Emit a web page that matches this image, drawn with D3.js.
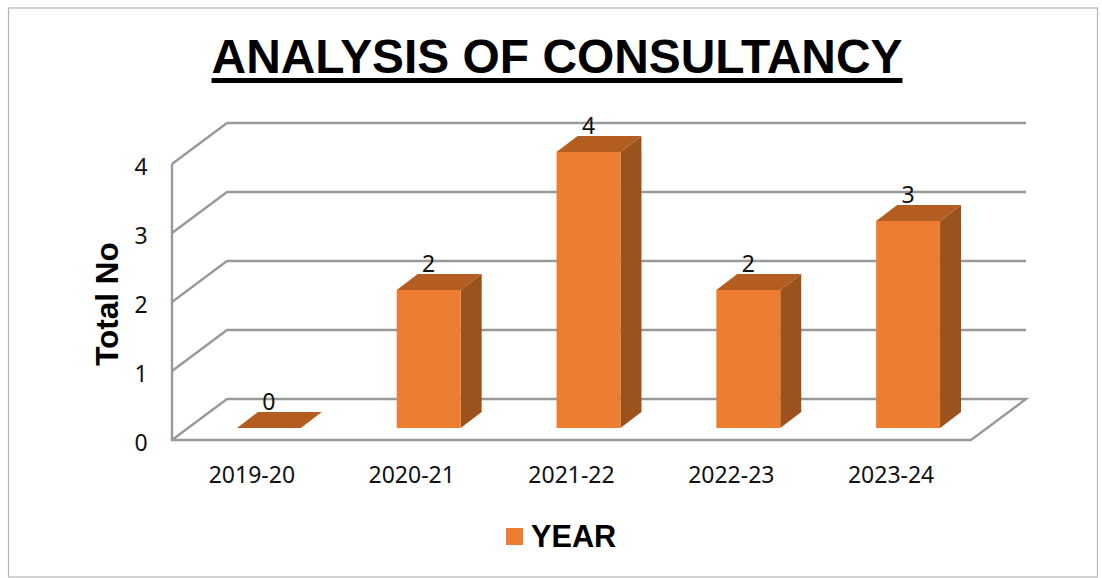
<!DOCTYPE html>
<html lang="en">
<head>
	<meta charset="UTF-8">
	<title>Analysis of Consultancy</title>
	<script src="https://d3js.org/d3.v7.min.js"></script>
	<style>
		html, body {
			margin: 0;
			padding: 0;
			background-color: white;
		}
		svg {
			display: block;
		}
		.tick-label {
			font-family: "Noto Sans", sans-serif;
			font-size: 23px;
			fill: #111;
		}
		.grid {
			fill: none;
			stroke: #999;
			stroke-width: 2.4;
		}
		.bold {
			font-family: "Liberation Sans", Arial, sans-serif;
			font-weight: bold;
			fill: black;
		}
	</style>
</head>
<body>
	<script>
		var categories = ['2019-20','2020-21','2021-22','2022-23','2023-24'];
		var values = [0,2,4,2,3];
		var yTicks = [0,1,2,3,4];

		var width = 1102,
			height = 578;

		// front plane of the 3d box
		var x = d3.scaleBand()
			.domain(categories)
			.range([172,971])
			.paddingInner(0.6)
			.paddingOuter(0.3);
		var y = d3.scaleLinear()
			.domain([0,4])
			.range([440,164]);

		var wall = {dx:55, dy:-41};      // floor depth
		var barShift = {dx:17, dy:-12}; // bars sit a bit inside the floor
		var barDepth = {dx:21, dy:-16};

		var svg = d3.select('body')
			.append('svg')
			.attr('width',width)
			.attr('height',height);

		svg.append('rect')
			.attr('x',8.5)
			.attr('y',8)
			.attr('width',1089)
			.attr('height',569)
			.attr('fill','white')
			.attr('stroke','#b4b4b4')
			.attr('stroke-width',1.2);

		// title
		var title = svg.append('text')
			.attr('class','bold')
			.attr('x',557)
			.attr('y',73)
			.attr('text-anchor','middle')
			.attr('font-size',47.9)
			.text('ANALYSIS OF CONSULTANCY');
		var tw = title.node().getComputedTextLength();
		svg.append('rect')
			.attr('x',557 - tw/2)
			.attr('y',78)
			.attr('width',tw)
			.attr('height',5)
			.attr('fill','black');

		// gridlines with their slanted side wall
		svg.selectAll('path.gridline')
			.data(yTicks.slice(1))
			.enter()
			.append('path')
			.attr('class','grid gridline')
			.attr('d',function (d) {
				return d3.line()([
					[172, y(d)],
					[172+wall.dx, y(d)+wall.dy],
					[971+wall.dx, y(d)+wall.dy]
				]);
			});

		// floor and left edge
		svg.append('path')
			.attr('class','grid')
			.attr('d',d3.line()([
				[172,y(4)],
				[172,y(0)],
				[971,y(0)],
				[971+wall.dx,y(0)+wall.dy],
				[172+wall.dx,y(0)+wall.dy],
				[172,y(0)]
			]));

		// bars
		var bars = svg.selectAll('g.bar')
			.data(categories)
			.enter()
			.append('g')
			.attr('class','bar');

		function barPoints(c,i) {
			var x0 = x(c) + barShift.dx,
				x1 = x0 + x.bandwidth(),
				yb = y(0) + barShift.dy,
				yt = y(values[i]) + barShift.dy;
			return {x0:x0, x1:x1, yb:yb, yt:yt};
		}

		// side
		bars.append('path')
			.attr('fill','#9b521d')
			.attr('d',function (c,i) {
				var p = barPoints(c,i);
				return d3.line()([
					[p.x1,p.yb],
					[p.x1+barDepth.dx,p.yb+barDepth.dy],
					[p.x1+barDepth.dx,p.yt+barDepth.dy],
					[p.x1,p.yt]
				]) + 'Z';
			});
		// top
		bars.append('path')
			.attr('fill','#b35e20')
			.attr('d',function (c,i) {
				var p = barPoints(c,i);
				return d3.line()([
					[p.x0,p.yt],
					[p.x0+barDepth.dx,p.yt+barDepth.dy],
					[p.x1+barDepth.dx,p.yt+barDepth.dy],
					[p.x1,p.yt]
				]) + 'Z';
			});
		// front
		bars.append('rect')
			.attr('fill','#ed7d31')
			.attr('x',function (c,i) { return barPoints(c,i).x0; })
			.attr('y',function (c,i) { return barPoints(c,i).yt; })
			.attr('width',x.bandwidth())
			.attr('height',function (c,i) {
				var p = barPoints(c,i);
				return p.yb - p.yt;
			});
		// value labels
		bars.append('text')
			.attr('class','tick-label')
			.attr('text-anchor','middle')
			.attr('x',function (c,i) { return barPoints(c,i).x0 + x.bandwidth()/2; })
			.attr('y',function (c,i) { return barPoints(c,i).yt - 18; })
			.text(function (c,i) { return values[i]; });

		// y tick labels
		svg.selectAll('text.ylabel')
			.data(yTicks)
			.enter()
			.append('text')
			.attr('class','tick-label ylabel')
			.attr('x',141)
			.attr('y',function (d) { return y(d) + 11; })
			.attr('text-anchor','middle')
			.text(function (d) { return d; });

		// x labels
		svg.selectAll('text.xlabel')
			.data(categories)
			.enter()
			.append('text')
			.attr('class','tick-label xlabel')
			.attr('x',function (c) { return x(c) + x.bandwidth()/2; })
			.attr('y',483)
			.attr('text-anchor','middle')
			.text(function (c) { return c; });

		// y axis title
		svg.append('text')
			.attr('class','bold')
			.attr('transform','translate(118,304) rotate(-90)')
			.attr('text-anchor','middle')
			.attr('font-size',31.5)
			.text('Total No');

		// legend
		svg.append('rect')
			.attr('x',506)
			.attr('y',528)
			.attr('width',17)
			.attr('height',17)
			.attr('fill','#ed7d31');
		svg.append('text')
			.attr('class','bold')
			.attr('x',531)
			.attr('y',547)
			.attr('font-size',30.7)
			.text('YEAR');
	</script>
</body>
</html>
